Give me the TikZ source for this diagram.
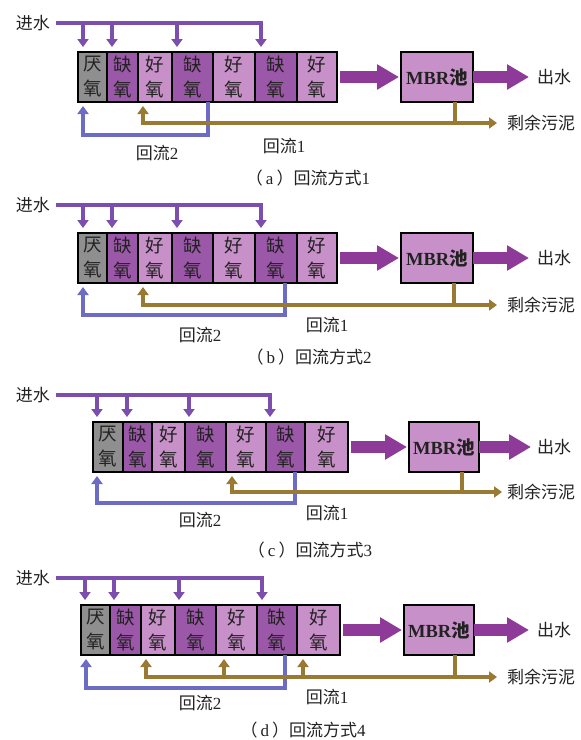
\documentclass[tikz,border=0pt]{standalone}
\usepackage{fontspec}
\setmainfont{Liberation Serif}
\newfontfamily\cjk{Noto Sans CJK SC}
\usetikzlibrary{arrows.meta,calc}
\definecolor{grayc}{HTML}{8F8F8F}
\definecolor{anoxc}{HTML}{9C58A8}
\definecolor{aerc}{HTML}{C890C8}
\definecolor{bigc}{HTML}{8E3A98}
\definecolor{feedc}{HTML}{7C4EAE}
\definecolor{retbc}{HTML}{6C6CC4}
\definecolor{retac}{HTML}{9A7A32}
\definecolor{txtc}{HTML}{222222}
\newcommand\labfont{\fontsize{17}{20}\selectfont}
\newcommand\cellfont{\cjk\fontsize{18.5}{25}\selectfont}
\newcommand\cellat[6]{\node[#5, minimum width=#4pt] (#1) at (#2,#3) {#6};}
\newcommand\capt[2]{{\cjk （}\hspace{3pt}#1\hspace{3pt}{\cjk ）回流方式}#2}
\tikzset{
 cellbox/.style={draw=black, line width=1.6pt, minimum height=50pt, inner sep=0pt, outer sep=0pt, anchor=north west, font=\cellfont, align=center, text=txtc},
 ana/.style={cellbox, fill=grayc},
 ano/.style={cellbox, fill=anoxc},
 aer/.style={cellbox, fill=aerc},
 mbrbox/.style={cellbox, fill=aerc, font=\bfseries\fontsize{18.5}{20}\selectfont},
 lab/.style={font=\labfont, inner sep=0pt, text=txtc},
 tip/.style={-{Triangle[width=11pt,length=8pt]}},
 feedarr/.style={draw=feedc, line width=4pt, tip},
 retb/.style={draw=retbc, line width=4pt, tip},
 reta/.style={draw=retac, line width=4pt},
 retaarr/.style={reta, tip},
 retaboth/.style={reta, {Triangle[width=11pt,length=8pt]}-{Triangle[width=11pt,length=8pt]}},
 bigarr/.style={draw=bigc, line width=12pt, -{Triangle[width=24pt,length=22pt]}},
}
\begin{document}
\begin{tikzpicture}[x=1pt,y=-1pt]
\useasboundingbox (0,0) rectangle (581,740);
\fill[white] (0,0) rectangle (581,740);

% ---------- panel (a) ----------
\node[lab] (a-in) at (33,23) {\cjk 进水};
\cellat{a-1}{78}{52}{29}{ana}{厌\\氧}
\cellat{a-2}{107}{52}{31}{ano}{缺\\氧}
\cellat{a-3}{138}{52}{34}{aer}{好\\氧}
\cellat{a-4}{172}{52}{41}{ano}{缺\\氧}
\cellat{a-5}{213}{52}{42}{aer}{好\\氧}
\cellat{a-6}{255}{52}{42}{ano}{缺\\氧}
\cellat{a-7}{297}{52}{40}{aer}{好\\氧}
\node[mbrbox, minimum width=72pt] (a-m) at (401,52) {MBR{\cjk 池}};
\node[lab, anchor=west] (a-out) at (537,77) {\cjk 出水};
\node[lab, anchor=west] (a-sl) at (507,123) {\cjk 剩余污泥};
\node[lab] (a-r2) at (157,153) {{\cjk 回流}2};
\node[lab] (a-r1) at (284,146) {{\cjk 回流}1};
\node[lab] (a-cap) at (308,178) {\capt{a}{1}};
\draw[feedarr] ($(a-in.east)+(6,0)$) -| ($(a-6.north west)+(6,-5)$);
\foreach \c in {1,2,4}{\path ($(a-\c.north west)+(5,-5)$) coordinate (t); \draw[feedarr] (t |- a-in.east) -- (t);}
\draw[bigarr] ($(a-7.east)+(3,0)$) -- ($(a-m.west)+(-2,0)$);
\draw[bigarr] (a-m.east) -- ($(a-out.west)+(-8,0)$);
\draw[retb] ($(a-4.south east)+(-5,0)$) -- ++(0,33) -| ($(a-1.south west)+(5,4)$);
\path ($(a-m.south east)+(-18,0)$) coordinate (a-d);
\draw[reta] (a-d) -- (a-d |- a-sl.west);
\draw[retaboth] ($(a-3.south west)+(5,4)$) |- ($(a-sl.west)+(-10,0)$);

% ---------- panel (b) ----------
\node[lab] (b-in) at (33,205) {\cjk 进水};
\cellat{b-1}{78}{233}{29}{ana}{厌\\氧}
\cellat{b-2}{107}{233}{31}{ano}{缺\\氧}
\cellat{b-3}{138}{233}{34}{aer}{好\\氧}
\cellat{b-4}{172}{233}{41}{ano}{缺\\氧}
\cellat{b-5}{213}{233}{42}{aer}{好\\氧}
\cellat{b-6}{255}{233}{42}{ano}{缺\\氧}
\cellat{b-7}{297}{233}{40}{aer}{好\\氧}
\node[mbrbox, minimum width=72pt] (b-m) at (401,233) {MBR{\cjk 池}};
\node[lab, anchor=west] (b-out) at (537,258) {\cjk 出水};
\node[lab, anchor=west] (b-sl) at (507,305) {\cjk 剩余污泥};
\node[lab] (b-r2) at (200,335) {{\cjk 回流}2};
\node[lab] (b-r1) at (327,325) {{\cjk 回流}1};
\node[lab] (b-cap) at (309,357) {\capt{b}{2}};
\draw[feedarr] ($(b-in.east)+(6,0)$) -| ($(b-6.north west)+(6,-5)$);
\foreach \c in {1,2,4}{\path ($(b-\c.north west)+(5,-5)$) coordinate (t); \draw[feedarr] (t |- b-in.east) -- (t);}
\draw[bigarr] ($(b-7.east)+(3,0)$) -- ($(b-m.west)+(-2,0)$);
\draw[bigarr] (b-m.east) -- ($(b-out.west)+(-8,0)$);
\draw[retb] ($(b-6.south east)+(-12,0)$) -- ++(0,32) -| ($(b-1.south west)+(5,4)$);
\path ($(b-m.south east)+(-19,0)$) coordinate (b-d);
\draw[reta] (b-d) -- (b-d |- b-sl.west);
\draw[retaboth] ($(b-3.south west)+(5,4)$) |- ($(b-sl.west)+(-10,0)$);

% ---------- panel (c) ----------
\node[lab] (c-in) at (33,395) {\cjk 进水};
\cellat{c-1}{93}{422}{30}{ana}{厌\\氧}
\cellat{c-2}{123}{422}{29}{ano}{缺\\氧}
\cellat{c-3}{152}{422}{33}{aer}{好\\氧}
\cellat{c-4}{185}{422}{41}{ano}{缺\\氧}
\cellat{c-5}{226}{422}{40}{aer}{好\\氧}
\cellat{c-6}{266}{422}{39}{ano}{缺\\氧}
\cellat{c-7}{305}{422}{43}{aer}{好\\氧}
\node[mbrbox, minimum width=70pt] (c-m) at (409,422) {MBR{\cjk 池}};
\node[lab, anchor=west] (c-out) at (537,447) {\cjk 出水};
\node[lab, anchor=west] (c-sl) at (507,492) {\cjk 剩余污泥};
\node[lab] (c-r2) at (200,520) {{\cjk 回流}2};
\node[lab] (c-r1) at (327,513) {{\cjk 回流}1};
\node[lab] (c-cap) at (310,550) {\capt{c}{3}};
\draw[feedarr] ($(c-in.east)+(6,0)$) -| ($(c-6.north west)+(4,-5)$);
\foreach \c in {1,2,4}{\path ($(c-\c.north west)+(4,-5)$) coordinate (t); \draw[feedarr] (t |- c-in.east) -- (t);}
\draw[bigarr] ($(c-7.east)+(3,0)$) -- ($(c-m.west)+(-2,0)$);
\draw[bigarr] (c-m.east) -- ($(c-out.west)+(-6,0)$);
\draw[retb] ($(c-6.south east)+(-10,0)$) -- ++(0,31) -| ($(c-1.south west)+(4,4)$);
\path ($(c-m.south east)+(-17,0)$) coordinate (c-d);
\draw[reta] (c-d) -- (c-d |- c-sl.west);
\draw[retaboth] ($(c-5.south west)+(6,4)$) |- ($(c-sl.west)+(-5,0)$);

% ---------- panel (d) ----------
\node[lab] (d-in) at (33,578) {\cjk 进水};
\cellat{d-1}{81}{605}{29}{ana}{厌\\氧}
\cellat{d-2}{110}{605}{31}{ano}{缺\\氧}
\cellat{d-3}{141}{605}{34}{aer}{好\\氧}
\cellat{d-4}{175}{605}{41}{ano}{缺\\氧}
\cellat{d-5}{216}{605}{41}{aer}{好\\氧}
\cellat{d-6}{257}{605}{40}{ano}{缺\\氧}
\cellat{d-7}{297}{605}{43}{aer}{好\\氧}
\node[mbrbox, minimum width=70pt] (d-m) at (404,605) {MBR{\cjk 池}};
\node[lab, anchor=west] (d-out) at (537,630) {\cjk 出水};
\node[lab, anchor=west] (d-sl) at (507,677) {\cjk 剩余污泥};
\node[lab] (d-r2) at (200,703) {{\cjk 回流}2};
\node[lab] (d-r1) at (327,697) {{\cjk 回流}1};
\node[lab] (d-cap) at (303,730) {\capt{d}{4}};
\draw[feedarr] ($(d-in.east)+(6,0)$) -| ($(d-6.north west)+(5,-5)$);
\foreach \c in {1,2,4}{\path ($(d-\c.north west)+(4,-5)$) coordinate (t); \draw[feedarr] (t |- d-in.east) -- (t);}
\draw[bigarr] ($(d-7.east)+(3,0)$) -- ($(d-m.west)+(-2,0)$);
\draw[bigarr] (d-m.east) -- ($(d-out.west)+(-8,0)$);
\draw[retb] ($(d-6.south east)+(-12,0)$) -- ++(0,33) -| ($(d-1.south west)+(5,4)$);
\path ($(d-m.south east)+(-19,0)$) coordinate (d-d);
\draw[reta] (d-d) -- (d-d |- d-sl.west);
\draw[retaboth] ($(d-3.south west)+(5,4)$) |- ($(d-sl.west)+(-10,0)$);
\foreach \c/\o in {5/8,7/6}{\path ($(d-\c.south west)+(\o,4)$) coordinate (t); \draw[retaarr] (t |- d-sl.west) -- (t);}
\end{tikzpicture}
\end{document}
